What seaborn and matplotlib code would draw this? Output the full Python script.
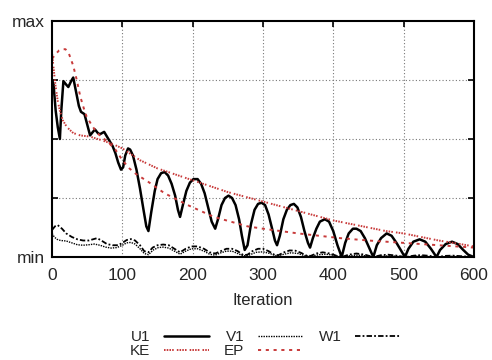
import numpy as np
import pandas as pd
import matplotlib
matplotlib.use("Agg")
import matplotlib.pyplot as plt
import seaborn as sns
from matplotlib.ticker import MultipleLocator, FixedLocator

u1_x = [0, 2, 5, 8, 11, 13, 16, 20, 23, 27, 30, 34, 38, 41, 46, 50, 54, 58, 61, 65, 68, 71, 74, 78, 82, 86, 90, 94, 98,
        101, 104, 108, 111, 115, 120, 125, 130, 134, 137, 141, 146, 150, 155, 160, 165, 170, 175, 179, 182, 186, 191,
        196, 201, 207, 212, 217, 222, 227, 232, 236, 241, 246, 251, 256, 261, 266, 270, 274, 278, 283, 288, 293, 298,
        303, 308, 313, 317, 320, 324, 329, 334, 339, 344, 349, 354, 359, 364, 367, 371, 376, 381, 388, 394, 400, 406,
        412, 417, 422, 428, 433, 439, 445, 451, 457, 462, 468, 476, 483, 490, 496, 502, 507, 514, 523, 531, 539, 547,
        552, 560, 569, 577, 585, 592, 600]
u1_y = [0.75, 0.73, 0.62, 0.55, 0.50, 0.62, 0.745, 0.73, 0.72, 0.745, 0.76, 0.70, 0.64, 0.615, 0.605, 0.56, 0.515,
        0.53, 0.54, 0.525, 0.52, 0.525, 0.53, 0.51, 0.49, 0.47, 0.44, 0.40, 0.37,
        0.38, 0.43, 0.46, 0.455, 0.43, 0.37, 0.29, 0.20, 0.13, 0.11, 0.19, 0.28, 0.33, 0.355, 0.36, 0.345, 0.31, 0.26,
        0.20, 0.17, 0.22, 0.28, 0.315, 0.33, 0.33, 0.31, 0.27, 0.21, 0.15, 0.12, 0.16, 0.22, 0.25, 0.26, 0.25, 0.22,
        0.16, 0.09, 0.03, 0.05, 0.14, 0.20, 0.225, 0.23, 0.22, 0.18, 0.12, 0.07, 0.05, 0.09, 0.16, 0.20, 0.22, 0.225,
        0.21, 0.17, 0.11, 0.06, 0.04, 0.08, 0.12, 0.15, 0.16, 0.15, 0.11, 0.05, 0.0, 0.06, 0.10, 0.12, 0.12, 0.11,
        0.08, 0.04, 0.0, 0.05, 0.08, 0.10, 0.09, 0.06, 0.03, 0.0, 0.035, 0.065, 0.075, 0.065, 0.035, 0.0, 0.03, 0.055,
        0.065, 0.055, 0.03, 0.01, 0.0]

v1_x = [0, 3, 7, 12, 20, 28, 36, 44, 52, 60, 68, 76, 84, 92, 100, 106, 112, 118, 125, 131, 137, 144, 151, 158, 166,
        174, 182, 190, 198, 207, 216, 224, 232, 240, 248, 256, 264, 272, 280, 290, 300, 310, 320, 330, 340, 350, 360,
        368, 380, 390, 400, 412, 425, 435, 447, 457, 470, 480, 492, 502, 520, 547, 570, 600]
v1_y = [0.10, 0.085, 0.075, 0.07, 0.068, 0.06, 0.052, 0.05, 0.052, 0.055, 0.05, 0.042, 0.038, 0.04, 0.05, 0.06, 0.062,
        0.055, 0.035, 0.015, 0.01, 0.03, 0.04, 0.042, 0.038, 0.025, 0.012, 0.025, 0.035, 0.035, 0.025, 0.012, 0.008,
        0.018, 0.025, 0.025, 0.015, 0.005, 0.008, 0.02, 0.022, 0.015, 0.004, 0.012, 0.018, 0.015, 0.005, 0.003, 0.01,
        0.012, 0.008, 0.0, 0.006, 0.008, 0.005, 0.0, 0.004, 0.005, 0.003, 0.0, 0.004, 0.0, 0.003, 0.0]

w1_x = [0, 4, 8, 14, 20, 28, 36, 44, 52, 58, 64, 70, 78, 86, 94, 100, 106, 112, 118, 125, 131, 137, 143, 150, 158, 166,
        174, 182, 190, 198, 207, 216, 224, 232, 240, 248, 256, 264, 272, 278, 285, 293, 300, 308, 316, 322, 330, 338,
        346, 354, 362, 368, 376, 385, 395, 405, 412, 422, 433, 445, 457, 468, 478, 490, 502, 515, 525, 537, 547, 560,
        570, 585, 600]
w1_y = [0.115, 0.13, 0.135, 0.12, 0.10, 0.085, 0.075, 0.07, 0.07, 0.075, 0.08, 0.07, 0.055, 0.05, 0.05, 0.06, 0.072,
        0.076, 0.07, 0.05, 0.025, 0.02, 0.04, 0.05, 0.053, 0.05, 0.035, 0.02, 0.035, 0.045, 0.045, 0.035, 0.02, 0.015,
        0.025, 0.035, 0.035, 0.025, 0.008, 0.01, 0.025, 0.035, 0.035, 0.025, 0.01, 0.008, 0.02, 0.028, 0.027, 0.018,
        0.006, 0.005, 0.015, 0.02, 0.015, 0.005, 0.0, 0.01, 0.015, 0.01, 0.0, 0.008, 0.01, 0.006, 0.0, 0.006, 0.008,
        0.005, 0.0, 0.005, 0.006, 0.003, 0.0]

ke_x = [0, 2, 5, 8, 11, 15, 21, 30, 40, 54, 70, 85, 100, 125, 150, 175, 200, 225, 250, 275, 300, 325, 350, 375, 400,
        425, 450, 475, 500, 525, 550, 575, 600]
ke_y = [0.86, 0.80, 0.72, 0.66, 0.62, 0.58, 0.55, 0.525, 0.515, 0.51, 0.495, 0.48, 0.46, 0.41, 0.375, 0.35, 0.325,
        0.30, 0.275, 0.255, 0.235, 0.215, 0.195, 0.175, 0.155, 0.14, 0.125, 0.11, 0.10, 0.085, 0.07, 0.058, 0.045]

ep_x = [0, 5, 10, 15, 19, 24, 30, 35, 40, 45, 49, 56, 64, 72, 80, 90, 100, 110, 120, 136, 160, 193, 230, 260, 278, 300,
        350, 410, 450, 500, 550, 600]
ep_y = [0.84, 0.86, 0.875, 0.88, 0.88, 0.86, 0.81, 0.75, 0.68, 0.63, 0.595, 0.56, 0.525, 0.505, 0.485, 0.455, 0.41,
        0.375, 0.35, 0.32, 0.27, 0.22, 0.17, 0.145, 0.13, 0.12, 0.10, 0.08, 0.07, 0.06, 0.05, 0.04]

x_ticks = [0, 100, 200, 300, 400, 500, 600]
y_ticks = [0, 1]
y_tick_labels = ["min", "max"]

sns.set_theme(style="white")
plt.rcParams['font.family'] = ['Liberation Sans', 'DejaVu Sans']

fig = plt.figure(figsize=(4.92, 3.6), dpi=100)
ax = fig.add_axes([0.106, 0.286, 0.857, 0.656])

red = "#c83a3a"
series = [
    ("U1", u1_x, u1_y, dict(color="black", lw=1.8, ls="-")),
    ("KE", ke_x, ke_y, dict(color=red, lw=1.4, ls=(0, (0.8, 0.6, 0.8, 0.6, 0.8, 0.6, 0.8, 1.6)))),
    ("V1", v1_x, v1_y, dict(color="black", lw=1.0, ls=(0, (1, 0.8)))),
    ("EP", ep_x, ep_y, dict(color=red, lw=1.4, ls=(0, (1.6, 2.4)))),
    ("W1", w1_x, w1_y, dict(color="black", lw=1.3, ls=(0, (3, 1.2, 1, 1.2)))),
]
for name, xs, ys, st in series:
    df = pd.DataFrame({"Iteration": xs, "val": ys})
    sns.lineplot(data=df, x="Iteration", y="val", ax=ax, estimator=None, sort=False,
                 label=name, color=st["color"], linewidth=st["lw"], linestyle=st["ls"])

ax.set_xlim(0, 600)
ax.set_ylim(0, 1)
ax.set_xticks(x_ticks)
ax.set_yticks(y_ticks)
ax.set_yticklabels(y_tick_labels)
ax.yaxis.set_minor_locator(FixedLocator([0.25, 0.5, 0.75]))
ax.grid(False)
for v in [100, 200, 300, 400, 500]:
    ax.axvline(v, color="#777777", lw=0.8, ls=(0, (1, 2)), zorder=0)
for v in [0.25, 0.5, 0.75]:
    ax.axhline(v, color="#777777", lw=0.8, ls=(0, (1, 2)), zorder=0)

for s in ax.spines.values():
    s.set_color("black")
    s.set_linewidth(1.5)
ax.tick_params(axis="both", which="both", direction="in", top=True, right=True,
               length=4, width=1.2, color="black", labelsize=12.5, pad=5)
ax.tick_params(axis="x", which="major", pad=8)
ax.tick_params(axis="y", which="minor", length=4, left=True, right=True)
ax.set_xlabel("Iteration", fontsize=12, labelpad=7)
ax.set_ylabel("")

ax.legend(ncol=3, loc="upper center", bbox_to_anchor=(0.505, -0.285), frameon=False,
          markerfirst=False, fontsize=11, handlelength=2.95, columnspacing=1.0,
          labelspacing=0.0, handletextpad=0.9, borderaxespad=0)

fig.savefig("out.png", dpi=100)
